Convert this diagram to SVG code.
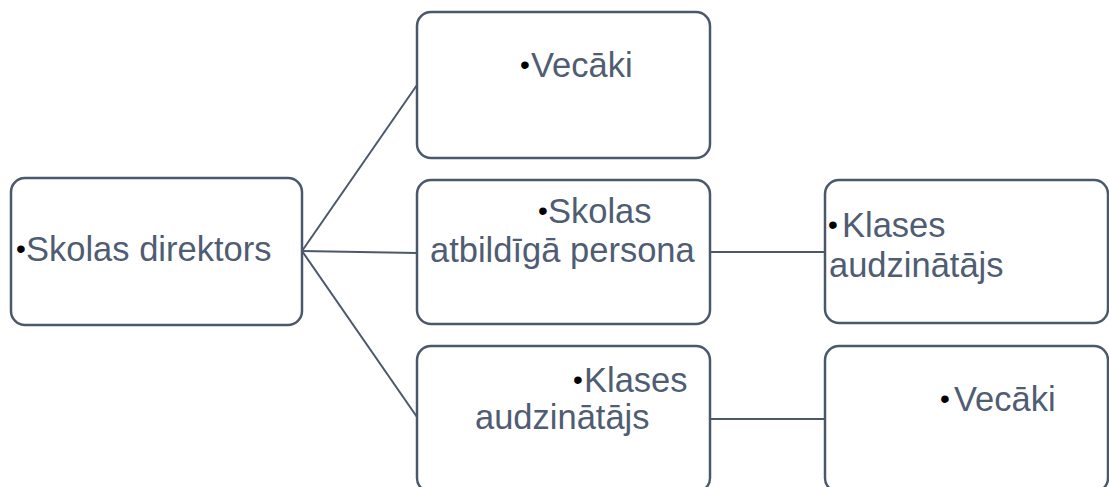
<svg xmlns="http://www.w3.org/2000/svg" width="1109" height="487" viewBox="0 0 1109 487">
<style>
.box{fill:#ffffff;stroke:#4b586c;stroke-width:2.5}
.conn{stroke:#4b586c;stroke-width:2;fill:none}
.t{font-family:"Liberation Sans",Arial,sans-serif;font-size:34.5px;fill:#4f5d73}
.b{font-family:"Liberation Sans",Arial,sans-serif;font-size:28px;fill:#000000;text-anchor:middle}
</style>
<rect width="1109" height="487" fill="#ffffff"/>
<g id="connectors">
<line class="conn" x1="302" y1="251" x2="417" y2="85"/>
<line class="conn" x1="302" y1="251" x2="417" y2="253"/>
<line class="conn" x1="302" y1="251" x2="417" y2="417"/>
<line class="conn" x1="710" y1="252" x2="825" y2="252"/>
<line class="conn" x1="710" y1="419" x2="825" y2="419"/>
</g>
<g id="n-direktors">
<rect class="box" x="11" y="178" width="291" height="147" rx="14"/>
<text class="b" x="21" y="258">•</text>
<text class="t" x="26" y="261">Skolas direktors</text>
</g>
<g id="n-vecaki-top">
<rect class="box" x="417" y="12" width="293" height="146" rx="14"/>
<text class="b" x="525" y="74">•</text>
<text class="t" x="531" y="77">Vecāki</text>
</g>
<g id="n-atbildiga">
<rect class="box" x="417" y="180" width="293" height="144" rx="14"/>
<text class="b" x="543" y="220">•</text>
<text class="t" x="548" y="223">Skolas</text>
<text class="t" x="430" y="262">atbildīgā persona</text>
</g>
<g id="n-klases-mid">
<rect class="box" x="417" y="346" width="293" height="146" rx="14"/>
<text class="b" x="578" y="389">•</text>
<text class="t" x="584" y="392">Klases</text>
<text class="t" x="475" y="429">audzinātājs</text>
</g>
<g id="n-klases-right">
<rect class="box" x="825" y="180" width="283" height="143" rx="14"/>
<text class="b" x="833" y="234">•</text>
<text class="t" x="842" y="237">Klases</text>
<text class="t" x="829" y="277">audzinātājs</text>
</g>
<g id="n-vecaki-right">
<rect class="box" x="825" y="346" width="283" height="146" rx="14"/>
<text class="b" x="945" y="408">•</text>
<text class="t" x="954" y="411">Vecāki</text>
</g>
</svg>
